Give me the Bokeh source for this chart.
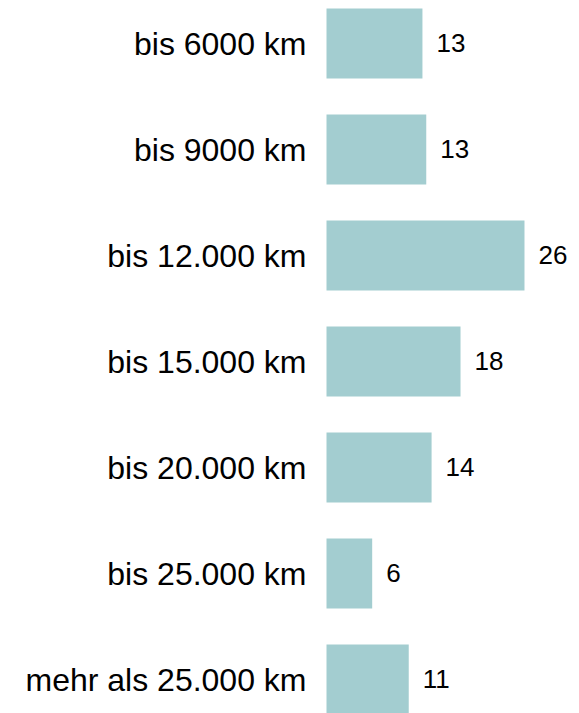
from bokeh.plotting import figure
from bokeh.models import ColumnDataSource, Range1d
from bokeh.core.properties import value
from bokeh.embed import file_html
from bokeh.resources import INLINE

categories = ["bis 6000 km", "bis 9000 km", "bis 12.000 km", "bis 15.000 km",
              "bis 20.000 km", "bis 25.000 km", "mehr als 25.000 km"]
values = [12.6, 13.1, 26.0, 17.6, 13.8, 6.0, 10.8]
value_labels = ["13", "13", "26", "18", "14", "6", "11"]

W, H = 579, 713
px_per_unit = 7.615
bar_left_px = 326
band_px = 106
first_center_px = 43

ypos = list(range(len(categories)))
src = ColumnDataSource(dict(y=ypos, v=values, cat=categories, lab=value_labels))

p = figure(width=W, height=H, output_backend="svg", toolbar_location=None,
           x_range=Range1d(-bar_left_px / px_per_unit, (W - bar_left_px) / px_per_unit),
           y_range=Range1d((H - first_center_px) / band_px, -first_center_px / band_px),
           min_border=0, outline_line_color=None)
p.axis.visible = False
p.grid.visible = False
p.background_fill_color = "white"
p.border_fill_color = "white"

p.hbar(y="y", left=0, right="v", height=70 / band_px, source=src,
       fill_color="#a3cdd0", line_color=None)

p.text(x=0, y="y", text="cat", source=src, x_offset=-20,
       text_align="right", text_baseline="middle",
       text_font=value("Liberation Sans"), text_font_size="32px", text_color="#000000")

p.text(x="v", y="y", text="lab", source=src, x_offset=14,
       text_align="left", text_baseline="middle", y_offset=-1,
       text_font=value("Liberation Sans"), text_font_size="26px", text_color="#000000")

open("out.html", "w").write(file_html(p, INLINE))
